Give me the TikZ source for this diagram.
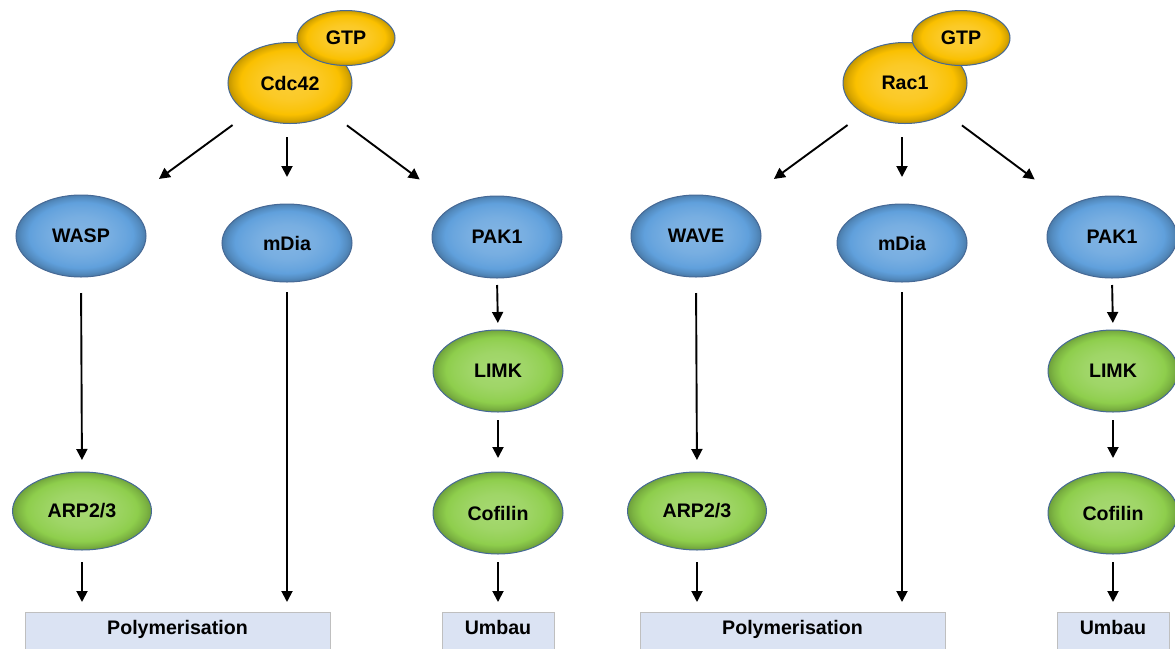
\documentclass[tikz,border=0pt]{standalone}
\usepackage{fontspec}
\setmainfont{Liberation Sans}
\usetikzlibrary{arrows.meta,shapes.geometric}

\definecolor{rimblue}{RGB}{70,105,150}
\definecolor{npfblue}{RGB}{96,160,220}
\definecolor{effgreen}{RGB}{142,206,76}
\definecolor{gtpgold}{RGB}{250,192,0}
\definecolor{boxfill}{RGB}{219,227,243}
\definecolor{boxline}{RGB}{191,191,191}
\colorlet{beadcol}{npfblue}
\pgfdeclareradialshading[beadcol]{bead}{\pgfpoint{0bp}{1bp}}{%
  color(0bp)=(beadcol!78!white); color(11bp)=(beadcol!85!white);
  color(17bp)=(beadcol!94!white); color(20bp)=(beadcol);
  color(23bp)=(beadcol!88!black); color(26bp)=(beadcol!72!black);
  color(50bp)=(beadcol!72!black)}

\begin{document}
\begin{tikzpicture}[x=0.5pt,y=-0.5pt,
  bead/.style={ellipse,draw=rimblue,line width=0.5pt,shade,shading=bead,
    /utils/exec={\colorlet{beadcol}{#1}},inner sep=0pt,outer sep=0pt,
    font=\bfseries\fontsize{9.8}{12}\selectfont},
  switch/.style={bead=gtpgold,minimum width=62pt,minimum height=40.5pt},
  gtpbead/.style={bead=gtpgold,minimum width=49pt,minimum height=27.5pt},
  npf/.style={bead=npfblue,minimum width=65pt,minimum height=41pt},
  eff/.style={bead=effgreen,minimum width=65pt,minimum height=41pt},
  outcome/.style={rectangle,draw=boxline,fill=boxfill,line width=0.5pt,
    anchor=north,text height=7pt,text depth=14pt,inner ysep=4pt,
    font=\bfseries\fontsize{9.8}{12}\selectfont},
  arrow/.style={-{Triangle[length=5.5pt,width=5.5pt]},line width=0.95pt}]
\useasboundingbox (0,0) rectangle (1175,649);
\clip (0,0) rectangle (1175,649);
% left: Cdc42 branch, right: Rac1 branch
\foreach \g/\dx/\sw/\nf in {L/0/Cdc42/WASP,R/615/Rac1/WAVE}{
  \node[switch] (\g-rho) at (\dx+290,83) {\sw};
  \node[gtpbead] (\g-gtp) at (\dx+346,38) {GTP};
  \node[npf] (\g-npf) at (\dx+81,236) {\nf};
  \node[npf,minimum height=39pt] (\g-mdia) at (\dx+287,243) {mDia};
  \node[npf] (\g-pak) at (\dx+497,237) {PAK1};
  \node[eff,minimum width=69.5pt,minimum height=39pt] (\g-arp) at (\dx+82,511) {ARP2/3};
  \node[eff] (\g-limk) at (\dx+498,371) {LIMK};
  \node[eff] (\g-cof) at (\dx+498,513) {Cofilin};
  \node[outcome,minimum width=152.5pt] (\g-poly) at (\dx+177.5,612) {Polymerisation};
  \node[outcome,minimum width=56pt] (\g-umbau) at (\dx+498,612) {Umbau};
  \draw[arrow,shorten <=10pt,shorten >=22pt] (\g-rho) -- (\g-npf);
  \draw[arrow,shorten <=10pt,shorten >=22pt] (\g-rho) -- (\g-pak);
  \draw[arrow,shorten <=6.75pt,shorten >=13.5pt] (\g-mdia |- \g-rho.south) -- (\g-mdia.north);
  \foreach \a/\b/\s/\e in {npf/arp/8/6,pak/limk/3.5/3.5,limk/cof/4/7}
    \draw[arrow,shorten <=\s pt,shorten >=\e pt] (\g-\a.south) -- (\g-\b.north);
  \foreach \a/\b/\s in {arp/poly/6,mdia/poly/5,cof/umbau/4}
    \draw[arrow,shorten <=\s pt,shorten >=5pt] (\g-\a.south) -- (\g-\a.south |- \g-\b.north);
}
\end{tikzpicture}
\end{document}
